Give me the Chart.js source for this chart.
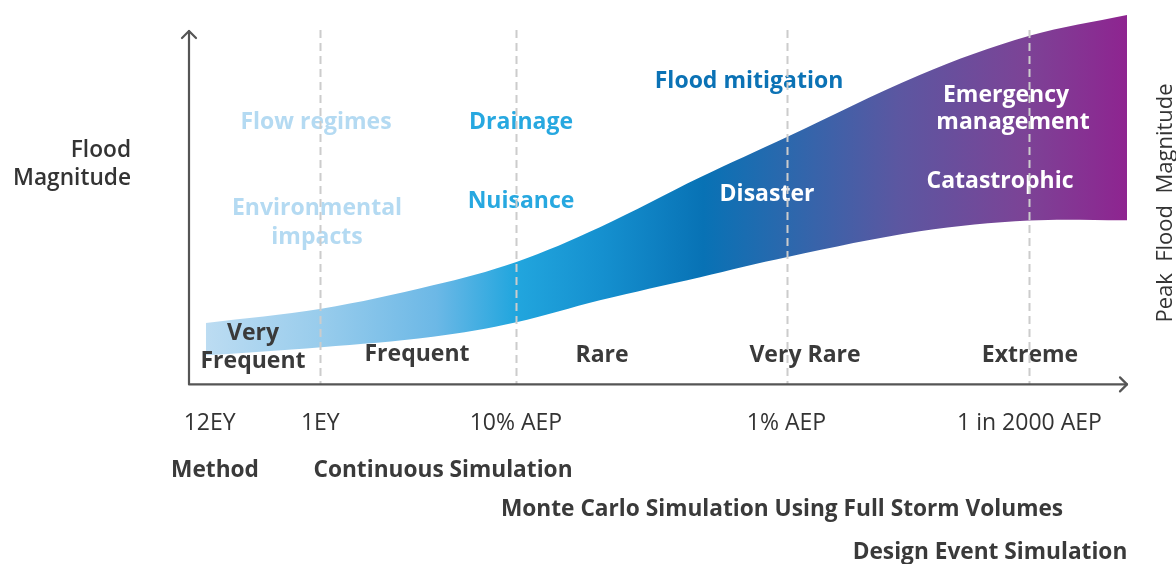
<!DOCTYPE html>
<html>
<head>
<meta charset="utf-8">
<script src="https://cdn.jsdelivr.net/npm/chart.js@4.4.1/dist/chart.umd.min.js"></script>
<style>
  html, body { margin: 0; padding: 0; background: #ffffff; }
  #wrap { width: 1176px; height: 564px; position: relative; }
</style>
</head>
<body>
<div id="wrap"><canvas id="chart" width="1176" height="564"></canvas></div>
<script>
// Position along the event-frequency axis (0 = most frequent, 100 = most extreme)
const bandPositions = [1.8, 14.1, 26.0, 34.9, 43.8, 54.5, 63.8, 77.9, 89.6, 100];
// Upper and lower edges of the peak flood magnitude band
const upperMagnitude = [16.5, 20.3, 26.6, 32.9, 42.2, 55.6, 66.5, 83.1, 93.6, 99.2];
const lowerMagnitude = [7.8, 10.0, 12.8, 16.7, 22.6, 28.8, 34.2, 41.1, 44.0, 44.1];
// Exceedance tick marks on the horizontal axis
const tickPositions = [2.2, 14.0, 34.85, 63.7, 89.6];
const tickLabels = ['12EY', '1EY', '10% AEP', '1% AEP', '1 in 2000 AEP'];

const FONT = '"Open Sans", "DejaVu Sans", sans-serif';
const AXIS_COLOUR = '#555555';
const DARK = '#3a3a3a';

// Colour ramp along the band, light blue through blue to purple
const bandStops = [
  [0.00, '#bcdcf2'],
  [0.125, '#98ccec'],
  [0.25, '#6cb8e6'],
  [0.335, '#22a6de'],
  [0.43, '#1590cf'],
  [0.54, '#0872b5'],
  [0.63, '#2b68ad'],
  [0.75, '#5b57a1'],
  [0.89, '#7c4396'],
  [1.00, '#8e2490']
];

function bandColour(context) {
  const chart = context.chart;
  if (!chart.chartArea) return 'rgba(0,0,0,0)';
  const xs = chart.scales.x;
  const x0 = xs.getPixelForValue(bandPositions[0]);
  const x1 = xs.getPixelForValue(bandPositions[bandPositions.length - 1]);
  const g = chart.ctx.createLinearGradient(x0, 0, x1, 0);
  bandStops.forEach(([f, c]) => g.addColorStop(f, c));
  return g;
}

// Text placed around and on the band
const bold = 700;
const LABEL = 23;
const METHOD = 22.7;
const notes = [
  { text: 'Flood', x: 131, y: 157, align: 'right', color: '#333333', weight: 600, size: 22.7 },
  { text: 'Magnitude', x: 131, y: 185, align: 'right', color: '#333333', weight: 600, size: 22.7 },
  { text: 'Flow regimes', x: 316, y: 129, color: '#b4daf2', weight: bold, size: LABEL },
  { text: 'Environmental', x: 317, y: 215, color: '#b4daf2', weight: bold, size: LABEL },
  { text: 'impacts', x: 317, y: 244, color: '#b4daf2', weight: bold, size: LABEL },
  { text: 'Drainage', x: 521, y: 129, color: '#27a8e0', weight: bold, size: LABEL },
  { text: 'Nuisance', x: 521, y: 208, color: '#27a8e0', weight: bold, size: LABEL },
  { text: 'Flood mitigation', x: 749, y: 88, color: '#0b72b5', weight: bold, size: LABEL },
  { text: 'Disaster', x: 767, y: 201, color: '#ffffff', weight: bold, size: LABEL },
  { text: 'Emergency', x: 1006, y: 102, color: '#ffffff', weight: bold, size: LABEL },
  { text: 'management', x: 1013, y: 129, color: '#ffffff', weight: bold, size: LABEL },
  { text: 'Catastrophic', x: 1000, y: 188, color: '#ffffff', weight: bold, size: LABEL },
  { text: 'Very', x: 253, y: 340, color: DARK, weight: bold, size: LABEL },
  { text: 'Frequent', x: 253, y: 368, color: DARK, weight: bold, size: LABEL },
  { text: 'Frequent', x: 417, y: 361, color: DARK, weight: bold, size: LABEL },
  { text: 'Rare', x: 602, y: 362, color: DARK, weight: bold, size: LABEL },
  { text: 'Very Rare', x: 805, y: 362, color: DARK, weight: bold, size: LABEL },
  { text: 'Extreme', x: 1030, y: 362, color: DARK, weight: bold, size: LABEL },
  { text: 'Method', x: 215, y: 477, color: DARK, weight: bold, size: METHOD },
  { text: 'Continuous Simulation', x: 443, y: 477, color: DARK, weight: bold, size: METHOD },
  { text: 'Monte Carlo Simulation Using Full Storm Volumes', x: 782, y: 516, color: DARK, weight: bold, size: METHOD },
  { text: 'Design Event Simulation', x: 990, y: 559, color: DARK, weight: bold, size: METHOD }
];

function drawNote(ctx, n) {
  ctx.font = `${n.weight} ${n.size}px ${FONT}`;
  ctx.fillStyle = n.color;
  ctx.textAlign = n.align || 'center';
  ctx.textBaseline = 'alphabetic';
  ctx.fillText(n.text, n.x, n.y);
}

const decorations = {
  id: 'decorations',
  afterDatasetsDraw(chart) {
    const { ctx, chartArea } = chart;
    const xs = chart.scales.x;
    ctx.save();

    // labels
    notes.forEach(n => drawNote(ctx, n));

    // rotated title on the right
    ctx.save();
    ctx.translate(1172, 203);
    ctx.rotate(-Math.PI / 2);
    ctx.font = `400 22px ${FONT}`;
    ctx.fillStyle = '#333333';
    ctx.textAlign = 'center';
    ctx.textBaseline = 'alphabetic';
    ctx.fillText('Peak  Flood  Magnitude', 0, 0);
    ctx.restore();

    // dashed exceedance markers
    ctx.strokeStyle = '#cccccc';
    ctx.lineWidth = 2;
    ctx.setLineDash([8, 5]);
    tickPositions.slice(1).forEach(v => {
      const x = Math.round(xs.getPixelForValue(v)) + 0.5;
      ctx.beginPath();
      ctx.moveTo(x, 30);
      ctx.lineTo(x, chartArea.bottom);
      ctx.stroke();
    });
    ctx.setLineDash([]);

    // axes with arrow heads
    const left = chartArea.left, bottom = chartArea.bottom, right = chartArea.right;
    const top = 31;
    ctx.strokeStyle = AXIS_COLOUR;
    ctx.lineWidth = 2.2;
    ctx.lineCap = 'round';
    ctx.lineJoin = 'round';
    ctx.beginPath();
    ctx.moveTo(left, top);
    ctx.lineTo(left, bottom);
    ctx.lineTo(right, bottom);
    ctx.stroke();
    ctx.beginPath();
    ctx.moveTo(left - 7, top + 7);
    ctx.lineTo(left, top);
    ctx.lineTo(left + 7, top + 7);
    ctx.stroke();
    ctx.beginPath();
    ctx.moveTo(right - 7, bottom - 7);
    ctx.lineTo(right, bottom);
    ctx.lineTo(right - 7, bottom + 7);
    ctx.stroke();

    ctx.restore();
  }
};

new Chart(document.getElementById('chart'), {
  type: 'line',
  data: {
    datasets: [
      {
        label: 'Lower edge',
        data: bandPositions.map((x, i) => ({ x, y: lowerMagnitude[i] })),
        borderWidth: 0,
        borderColor: 'rgba(0,0,0,0)',
        pointRadius: 0,
        tension: 0.35,
        fill: false
      },
      {
        label: 'Upper edge',
        data: bandPositions.map((x, i) => ({ x, y: upperMagnitude[i] })),
        borderWidth: 0,
        borderColor: 'rgba(0,0,0,0)',
        pointRadius: 0,
        tension: 0.35,
        backgroundColor: bandColour,
        fill: '-1'
      }
    ]
  },
  options: {
    responsive: false,
    animation: false,
    devicePixelRatio: 1,
    layout: { padding: { left: 189, right: 49, top: 12, bottom: 102 } },
    plugins: { legend: { display: false }, tooltip: { enabled: false } },
    scales: {
      x: {
        type: 'linear',
        min: 0,
        max: 100,
        afterBuildTicks: scale => { scale.ticks = tickPositions.map(v => ({ value: v })); },
        ticks: {
          callback: (v, i) => tickLabels[i],
          autoSkip: false,
          maxRotation: 0,
          minRotation: 0,
          padding: 25,
          color: '#333333',
          font: { family: FONT, size: 23, weight: 400 }
        },
        grid: { display: false, drawTicks: false },
        border: { display: false }
      },
      y: {
        display: false,
        min: 0,
        max: 100
      }
    }
  },
  plugins: [decorations]
});
</script>
</body>
</html>
